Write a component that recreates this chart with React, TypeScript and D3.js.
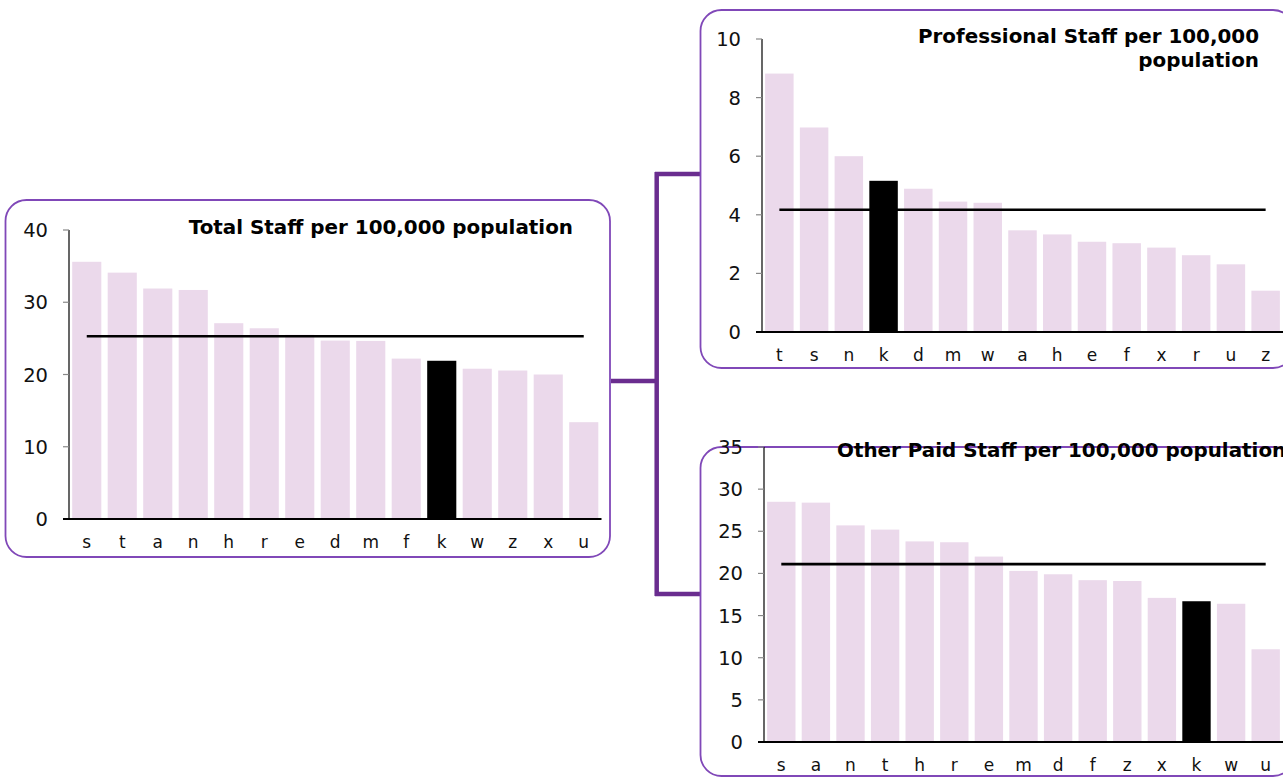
import React, { useEffect } from "react";
import * as d3 from "d3";

// ---------- data ----------
const totalCats = ["s", "t", "a", "n", "h", "r", "e", "d", "m", "f", "k", "w", "z", "x", "u"];
const totalVals = [35.6, 34.1, 31.9, 31.7, 27.1, 26.4, 25.5, 24.7, 24.65, 22.2, 21.9, 20.8, 20.55, 20.0, 13.4];
const totalAvg = 25.3;
const totalTicks = [0, 10, 20, 30, 40];

const profCats = ["t", "s", "n", "k", "d", "m", "w", "a", "h", "e", "f", "x", "r", "u", "z"];
const profVals = [8.82, 6.98, 6.0, 5.16, 4.89, 4.45, 4.41, 3.47, 3.33, 3.08, 3.03, 2.88, 2.62, 2.31, 1.41];
const profAvg = 4.17;
const profTicks = [0, 2, 4, 6, 8, 10];

const otherCats = ["s", "a", "n", "t", "h", "r", "e", "m", "d", "f", "z", "x", "k", "w", "u"];
const otherVals = [28.5, 28.4, 25.7, 25.2, 23.8, 23.7, 22.0, 20.3, 19.9, 19.2, 19.1, 17.1, 16.7, 16.4, 11.0];
const otherAvg = 21.1;
const otherTicks = [0, 5, 10, 15, 20, 25, 30, 35];

const highlightCat = "k";

const FONT = "'DejaVu Sans', Verdana, sans-serif";
const BAR = "#ebd9eb";
const BORDER = "#8048b8";
const CONNECT = "#6a2d8f";

type PanelProps = {
  box: [number, number, number, number];
  xRange: [number, number];
  yRange: [number, number];
  cats: string[];
  vals: number[];
  avg: number;
  ticks: number[];
  title: string[];
  titleX: number;
  titleY: number;
  titleAnchor: "start" | "end";
};

function Panel(p: PanelProps) {
  const [bx0, by0, bx1, by1] = p.box;
  const x = d3.scaleBand<string>().domain(p.cats).range(p.xRange).paddingInner(0.18).paddingOuter(0.09);
  const yMax = p.ticks[p.ticks.length - 1];
  const y = d3.scaleLinear().domain([0, yMax]).range(p.yRange);
  const ax = p.xRange[0];
  const first = p.cats[0];
  const last = p.cats[p.cats.length - 1];
  const lx0 = (x(first) as number) + x.bandwidth() / 2;
  const lx1 = (x(last) as number) + x.bandwidth() / 2;
  return (
    <g>
      <rect x={bx0} y={by0} width={bx1 - bx0} height={by1 - by0} rx={21} ry={21} fill="white" stroke={BORDER} strokeWidth={1.8} />
      {p.cats.map((c, i) => (
        <rect
          key={c + i}
          x={x(c) as number}
          y={y(p.vals[i])}
          width={x.bandwidth()}
          height={y(0) - y(p.vals[i])}
          fill={c === highlightCat ? "#000" : BAR}
        />
      ))}
      {/* y axis */}
      <line x1={ax} x2={ax} y1={y(yMax)} y2={y(0)} stroke="#000" strokeWidth={1.2} />
      {p.ticks.map((t) => (
        <g key={t}>
          <line x1={ax - 6} x2={ax} y1={y(t)} y2={y(t)} stroke="#888" strokeWidth={1.2} />
          <text x={ax - 21} y={y(t)} dy="0.36em" textAnchor="end" fontSize={19.5} fontFamily={FONT} fill="#111">
            {t}
          </text>
        </g>
      ))}
      {/* baseline */}
      <line x1={ax - 6} x2={p.xRange[1]} y1={y(0)} y2={y(0)} stroke="#000" strokeWidth={1.8} />
      {p.cats.map((c, i) => (
        <text key={"l" + c + i} x={(x(c) as number) + x.bandwidth() / 2} y={y(0) + 29} textAnchor="middle" fontSize={17} fontFamily={FONT} fill="#111">
          {c}
        </text>
      ))}
      {/* average line */}
      <line x1={lx0} x2={lx1} y1={y(p.avg)} y2={y(p.avg)} stroke="#000" strokeWidth={2.6} />
      {p.title.map((t, i) => (
        <text key={"t" + i} x={p.titleX} y={p.titleY + i * 24} textAnchor={p.titleAnchor} fontSize={19.9} fontWeight="bold" fontFamily={FONT} fill="#000">
          {t}
        </text>
      ))}
    </g>
  );
}

export default function App() {
  useEffect(() => {
    document.body.style.margin = "0";
  }, []);
  return (
    <svg width={1283} height={777} style={{ position: "absolute", left: 0, top: 0, background: "#fff" }}>
      {/* connectors */}
      <g stroke={CONNECT} strokeWidth={4.5} fill="none">
        <line x1={611} x2={657} y1={381} y2={381} />
        <line x1={656.7} x2={656.7} y1={172} y2={596} />
        <line x1={655} x2={701} y1={174} y2={174} />
        <line x1={655} x2={701} y1={594} y2={594} />
      </g>
      <Panel
        box={[5.5, 200, 610, 557]}
        xRange={[69, 601.5]}
        yRange={[519, 230]}
        cats={totalCats}
        vals={totalVals}
        avg={totalAvg}
        ticks={totalTicks}
        title={["Total Staff per 100,000 population"]}
        titleX={573}
        titleY={234}
        titleAnchor="end"
      />
      <Panel
        box={[700.5, 10, 1294, 368]}
        xRange={[762, 1283]}
        yRange={[332, 39]}
        cats={profCats}
        vals={profVals}
        avg={profAvg}
        ticks={profTicks}
        title={["Professional Staff per 100,000", "population"]}
        titleX={1259}
        titleY={43}
        titleAnchor="end"
      />
      <Panel
        box={[700.5, 447, 1294, 776]}
        xRange={[764, 1283]}
        yRange={[742, 447]}
        cats={otherCats}
        vals={otherVals}
        avg={otherAvg}
        ticks={otherTicks}
        title={["Other Paid Staff per 100,000 population"]}
        titleX={837}
        titleY={457}
        titleAnchor="start"
      />
    </svg>
  );
}
